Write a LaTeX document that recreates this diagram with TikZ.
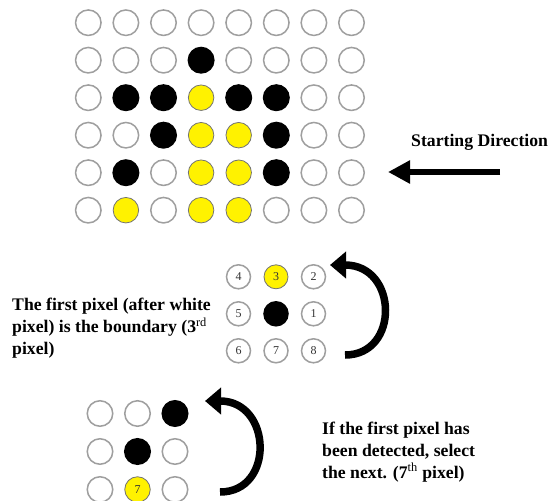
\documentclass[tikz,border=0pt]{standalone}
\usepackage{fontspec}
\setmainfont{Liberation Serif}
\usetikzlibrary{arrows.meta,positioning}
\tikzset{
  pxw/.style={circle,draw=gray!75,line width=1.5pt,minimum size=25.5pt,inner sep=0pt,fill=white},
  pxb/.style={pxw,draw=black,fill=black},
  pxy/.style={pxw,draw=black!55,line width=0.8pt,fill=yellow},
  sml/.style={minimum size=24pt},
  num/.style={font=\fontsize{12}{12}\selectfont,text=black!80,text depth=0pt,yshift=-3.5pt},
  note/.style={align=left,font=\bfseries\fontsize{17.7}{21.7}\selectfont,inner sep=0pt},
  turn/.style={-{Triangle[length=16pt,width=26pt]},line width=7.5pt},
  arrow/.style={-{Triangle[length=22pt,width=22pt]},line width=5.5pt}
}
\begin{document}
\begin{tikzpicture}[x=1pt,y=-1pt]
\useasboundingbox (0,0) rectangle (552,501);
\foreach \row [count=\r] in {{w,w,w,w,w,w,w,w},{w,w,w,b,w,w,w,w},{w,b,b,y,b,b,w,w},
  {w,w,b,y,y,b,w,w},{w,b,w,y,y,b,w,w},{w,y,w,y,y,w,w,w}}
  \foreach \c [count=\k] in \row
    \node[px\c] (m-\r-\k) at ({88.3+37.6*(\k-1)},{22.7+37.5*(\r-1)}) {};
\node[note,anchor=west] (start) at (411,142) {Starting Direction};
\coordinate (dirtail) at (500,172);
\coordinate (dirtip) at (388,172);
\draw[arrow] (dirtail)--(dirtip);
\foreach \row [count=\r] in {{4/w,3/y,2/w},{5/w,/b,1/w},{6/w,7/w,8/w}}
  \foreach \n/\c [count=\k] in \row
    \node[px\c,sml,num] (n-\r-\k) at ({238.5+37.5*(\k-1)},{273.3+37*(\r-1)}) {\n};
\node[note,anchor=north west] (first) at (12,298) {The first pixel (after white\\pixel) is the boundary (3\textsuperscript{\mdseries rd}\\pixel)};
\coordinate (t1s) at (345,355);
\coordinate (t1e) at (330,265);
\draw[turn] (t1s) .. controls (400,355) and (398,265) .. (t1e);
\foreach \row [count=\r] in {{w/,w/,b/},{w/,b/,w/},{w/,y/7,w/}}
  \foreach \c/\n [count=\k] in \row
    \node[px\c,num] (b-\r-\k) at ({100+37.5*(\k-1)},{410+38*(\r-1)}) {\n};
\coordinate (t2s) at (220,492);
\coordinate (t2e) at (205,401);
\draw[turn] (t2s) .. controls (275,492) and (272,401) .. (t2e);
\node[note,anchor=north west] (next) at (322,422) {If the first pixel has\\been detected, select\\the next. (7\textsuperscript{\mdseries th} pixel)};
\end{tikzpicture}
\end{document}
